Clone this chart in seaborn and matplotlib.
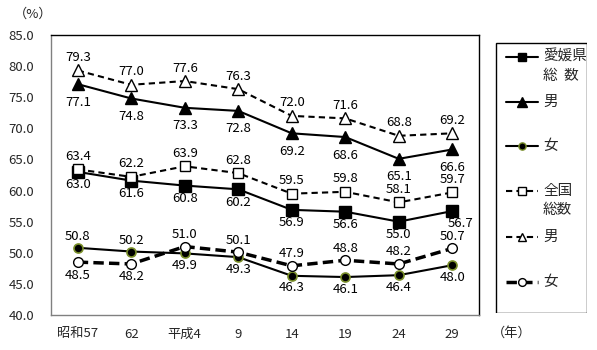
import matplotlib
matplotlib.use("Agg")
import matplotlib.pyplot as plt
import seaborn as sns
import pandas as pd
import numpy as np
from matplotlib.lines import Line2D
from matplotlib.patches import Rectangle

sns.set_style("white")
plt.rcParams['font.family'] = ['Noto Sans CJK JP', 'DejaVu Sans']

years = ["昭和57", "62", "平成4", "9", "14", "19", "24", "29"]
ehime_total = [63.0, 61.6, 60.8, 60.2, 56.9, 56.6, 55.0, 56.7]
ehime_male = [77.1, 74.8, 73.3, 72.8, 69.2, 68.6, 65.1, 66.6]
ehime_female = [50.8, 50.2, 49.9, 49.3, 46.3, 46.1, 46.4, 48.0]
nat_total = [63.4, 62.2, 63.9, 62.8, 59.5, 59.8, 58.1, 59.7]
nat_male = [79.3, 77.0, 77.6, 76.3, 72.0, 71.6, 68.8, 69.2]
nat_female = [48.5, 48.2, 51.0, 50.1, 47.9, 48.8, 48.2, 50.7]
yticks = [40.0, 45.0, 50.0, 55.0, 60.0, 65.0, 70.0, 75.0, 80.0, 85.0]
legend_labels = ["愛媛県\n総  数", "男", "女", "全国\n総数", "男", "女"]

W, H = 597, 350
x = np.arange(len(years))

fig = plt.figure(figsize=(W / 100, H / 100), dpi=100)
ax = fig.add_axes([51 / W, 1 - 315 / H, (479 - 51) / W, (315 - 35) / H])

fs = 9.5
PX = 0.72  # points per pixel at 100 dpi
series = [
    (ehime_total, dict(color="black", lw=1.5, ls="-", marker="s", ms=8, mfc="black", mec="black", mew=1)),
    (ehime_male, dict(color="black", lw=1.5, ls="-", marker="^", ms=8.5, mfc="black", mec="black", mew=1)),
    (ehime_female, dict(color="black", lw=1.5, ls="-", marker="o", ms=6.5, mfc="black", mec="#7a8f2a", mew=1.2)),
    (nat_total, dict(color="black", lw=1.5, ls=(0, (3, 2)), marker="s", ms=7.5, mfc="white", mec="black", mew=1)),
    (nat_male, dict(color="black", lw=1.5, ls=(0, (3, 2)), marker="^", ms=8, mfc="white", mec="black", mew=1)),
    (nat_female, dict(color="black", lw=2.5, ls=(0, (3, 1.5)), marker="o", ms=7, mfc="white", mec="black", mew=1)),
]
for vals, st in series:
    df = pd.DataFrame({"x": x, "y": vals})
    sns.lineplot(data=df, x="x", y="y", ax=ax, color=st["color"], linewidth=st["lw"],
                 linestyle=st["ls"], marker=st["marker"], markersize=st["ms"],
                 markerfacecolor=st["mfc"], markeredgecolor=st["mec"],
                 markeredgewidth=st["mew"], sort=False, legend=False)

def lab(vals, pos, below=13, above=12, special=None):
    for i, v in enumerate(vals):
        p = pos[i] if isinstance(pos, list) else pos
        dy = above if p == "a" else -below
        dx = 0
        if special and i in special:
            dx, dy = special[i]
        ax.annotate(f"{v:.1f}", (x[i], v), xytext=(dx * PX, dy * PX), textcoords="offset points",
                    ha="center", va="center", fontsize=fs, color="black")

lab(nat_male, "a", above=13)
lab(ehime_male, "b", below=18)
lab(nat_total, "a", above=13)
lab(ehime_total, "b", below=13, special={7: (8, -12)})
lab(ehime_female, ["a", "a", "b", "b", "b", "b", "b", "b"], below=12, above=11)
lab(nat_female, ["b", "b", "a", "a", "a", "a", "a", "a"], below=13, above=12)

ax.set_xlim(-0.5, 7.5)
ax.set_ylim(40, 85)
ax.set_yticks(yticks)
ax.set_yticklabels([f"{t:.1f}" for t in yticks], fontsize=fs)
ax.set_xticks(x)
ax.set_xticklabels(years, fontsize=fs)
ax.set_xticks(np.arange(-0.5, 8, 1), minor=True)
ax.tick_params(axis="x", which="major", length=0, pad=9)
ax.tick_params(axis="x", which="minor", length=4, color="#808080", direction="out")
ax.tick_params(axis="y", length=3, color="#808080", direction="out", pad=9)
ax.set_xlabel("")
ax.set_ylabel("")
for s in ["left", "bottom"]:
    ax.spines[s].set_color("#808080")
for s in ["top", "right"]:
    ax.spines[s].set_color("black")
for s in ax.spines.values():
    s.set_linewidth(1)

fig.text(14 / W, 1 - 14 / H, "（%）", fontsize=fs, va="center", ha="left")
fig.text(492 / W, 1 - 333 / H, "（年）", fontsize=fs, va="center", ha="left")

# legend drawn in its own axes (pixel coordinates)
lax = fig.add_axes([495 / W, 1 - 313 / H, (587 - 495) / W, (313 - 42) / H])
lax.set_xlim(495, 587)
lax.set_ylim(313, 42)
lax.axis("off")
lax.add_patch(Rectangle((495.5, 42.5), 91, 270, fill=False, edgecolor="black", lw=1))
entry_y = [57, 102, 146, 191, 237, 282]
for (vals, st), yy, lbl in zip(series, entry_y, legend_labels):
    lax.add_line(Line2D([506, 538], [yy, yy], color=st["color"], lw=st["lw"], ls=st["ls"]))
    lax.add_line(Line2D([522], [yy], marker=st["marker"], markersize=st["ms"] * 0.8,
                        markerfacecolor=st["mfc"], markeredgecolor=st["mec"], markeredgewidth=1))
    lines = lbl.split("\n")
    for k, t in enumerate(lines):
        lax.text(543, yy + k * 19, t, fontsize=10.5, va="center", ha="left")

fig.savefig("out.png", dpi=100)
